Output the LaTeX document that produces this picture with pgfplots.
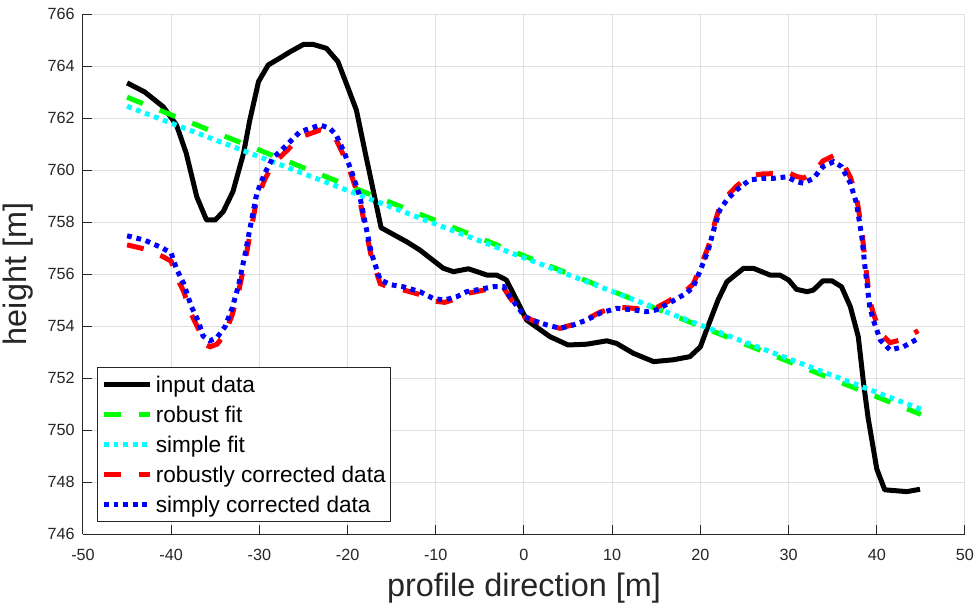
\documentclass[border=0pt]{standalone}
\usepackage{fontspec}
\setmainfont{Liberation Sans}
\usepackage{pgfplots}
\pgfplotsset{compat=1.18}
\definecolor{axgray}{RGB}{38,38,38}
\definecolor{gridgray}{RGB}{223,223,223}
\definecolor{mGreen}{RGB}{0,255,0}
\definecolor{mCyan}{RGB}{0,255,255}
\definecolor{mRed}{RGB}{255,0,0}
\definecolor{mBlue}{RGB}{0,0,255}

\begin{document}
\begin{tikzpicture}
\useasboundingbox (-41.5pt,-36pt) rectangle (448.5pt,267pt);
\begin{axis}[
  scale only axis, width=441pt, height=260pt,
  xmin=-50, xmax=50, ymin=746, ymax=766,
  axis x line*=bottom, axis y line*=left,
  axis line style={axgray, line width=0.5pt},
  xtick={-50,-40,...,50}, xticklabels={-50,-40,-30,-20,-10,0,10,20,30,40,50},
  ytick={746,748,...,766}, yticklabels={746,748,750,752,754,756,758,760,762,764,766},
  tick align=inside, major tick length=4.5pt,
  tick style={axgray, line width=0.5pt},
  grid=major, major grid style={gridgray, line width=0.5pt},
  ticklabel style={font=\fontsize{8.1}{9.5}\selectfont, text=axgray, inner sep=0pt},
  xticklabel style={anchor=north, yshift=-7.2pt},
  yticklabel style={anchor=east, xshift=-4pt},
  xlabel={profile direction [m]}, ylabel={height [m]},
  label style={font=\fontsize{16.2}{19}\selectfont, text=axgray},
  xlabel style={at={(axis description cs:0.5,-0.121)}, anchor=base},
  ylabel style={at={(axis description cs:-0.0635,0.5)}, anchor=base},
  legend style={at={(axis description cs:0,0)}, anchor=south west,
    xshift=6.85pt, yshift=6pt, draw=axgray, line width=0.5pt, fill=white,
    font=\fontsize{11.3}{13}\selectfont, inner xsep=2.2pt, inner ysep=3.1pt,
    row sep=4.2pt,
    nodes={inner sep=0pt, text height=9.6pt, text depth=1.2pt},
    /tikz/every odd column/.append style={column sep=1.8pt}},
  legend cell align=left,
  legend image code/.code={\path (0pt,0pt); \draw[#1] (0pt,0pt) -- (22.8pt,0pt);},
]
% input data
\addplot[black, line width=2.5pt, line join=round] coordinates {
(-45,763.35) (-43,763.0) (-40.9,762.43) (-39.4,761.73) (-38.3,760.65)
(-37.1,758.97) (-36.0,758.08) (-35.0,758.08) (-34.1,758.4) (-33.0,759.17)
(-31.8,760.64) (-31.1,761.9) (-30.1,763.4) (-29.0,764.04) (-27.7,764.3)
(-26.5,764.55) (-25.0,764.83) (-23.9,764.83) (-22.4,764.68) (-21.1,764.17)
(-20.0,763.2) (-19.0,762.3) (-17.9,760.5) (-17.5,759.87) (-16.2,757.78)
(-13.3,757.24) (-11.8,756.92) (-9.15,756.22) (-8.0,756.09) (-6.3,756.2)
(-4.2,755.96) (-3.1,755.96) (-2.0,755.77) (-0.45,754.74) (0.3,754.23)
(2.95,753.59) (5.0,753.27) (7.1,753.3) (9.4,753.43) (10.5,753.33)
(12.4,752.95) (14.7,752.63) (16.9,752.7) (18.8,752.82) (20.0,753.2)
(20.7,753.85) (22.0,755.0) (23.0,755.7) (24.9,756.22) (26.0,756.22)
(27.9,755.96) (29.0,755.96) (30.0,755.77) (30.9,755.41) (32.1,755.32)
(32.8,755.38) (33.9,755.74) (34.9,755.74) (36.0,755.51) (37.0,754.74)
(37.9,753.59) (38.5,751.8) (39.0,750.5) (40.0,748.5) (40.9,747.7)
(43.4,747.63) (44.9,747.72)
};
\addlegendentry{input data}
% robust fit
\addplot[mGreen, line width=2.5pt, dash pattern=on 8.5pt off 9pt] coordinates {
(-45,762.8) (45,750.6)
};
\addlegendentry{robust fit}
% simple fit
\addplot[mCyan, line width=2.5pt, dash pattern=on 2.4pt off 2.4pt] coordinates {
(-45,762.45) (45,750.8)
};
\addlegendentry{simple fit}
% robustly corrected data
\addplot[mRed, line width=2.5pt, dash pattern=on 8.5pt off 9pt] coordinates {
(-45,757.12) (-43,756.96) (-41,756.68) (-40,756.49) (-39.4,755.89)
(-38.6,755.34) (-37.7,754.44) (-36.9,753.88) (-36.4,753.33) (-35.6,753.2)
(-34.8,753.3) (-33.9,753.7) (-33.1,754.42) (-32.4,755.25) (-31.6,756.55)
(-31.1,757.45) (-30.3,758.86) (-29.4,759.63) (-28.5,760.22) (-26.9,760.74)
(-25.4,761.26) (-23.1,761.54) (-22.0,761.42) (-21.3,761.17) (-20.5,760.6)
(-19.6,759.83) (-18.6,758.81) (-18.0,757.8) (-17.3,756.65) (-16.3,755.63)
(-15.0,755.45) (-13.7,755.39) (-11.8,755.21) (-10.3,754.96) (-9.0,754.91)
(-7.6,755.05) (-6.5,755.25) (-5.0,755.35) (-3.5,755.46) (-2.3,755.47)
(-1.6,755.09) (-0.6,754.65) (0.1,754.34) (1.4,754.16) (2.6,754.03)
(4.1,753.91) (5.6,754.06) (7.1,754.26) (8.6,754.53) (10.5,754.73)
(12.4,754.68) (13.9,754.63) (15.0,754.7) (16.4,754.96) (18.4,755.37)
(19.2,755.62) (20.0,756.27) (20.9,757.05) (21.5,757.82) (22.2,758.6)
(23.0,758.99) (24.1,759.38) (25.6,759.78) (27.1,759.85) (28.3,759.86)
(29.8,759.93) (30.9,759.75) (31.7,759.69) (32.8,759.89) (33.9,760.35)
(35.1,760.55) (36.0,760.37) (37.0,759.73) (37.7,758.97) (38.3,757.68)
(38.7,756.41) (39.2,755.0) (39.6,754.49) (40.4,753.73) (41.5,753.36)
(43.0,753.49) (44.7,753.82)
};
\addlegendentry{robustly corrected data}
% simply corrected data
\addplot[mBlue, line width=2.5pt, dash pattern=on 2.4pt off 2.4pt] coordinates {
(-45,757.47) (-43,757.3) (-41,757.0) (-40,756.8) (-39.4,756.2)
(-38.6,755.64) (-37.7,754.74) (-36.9,754.17) (-36.4,753.62) (-35.6,753.43)
(-34.8,753.56) (-33.9,753.97) (-33.1,754.68) (-32.4,755.51) (-31.6,756.8)
(-31.1,757.7) (-30.3,759.1) (-29.4,759.87) (-28.5,760.45) (-26.9,760.96)
(-25.4,761.47) (-23.1,761.73) (-22.0,761.6) (-21.3,761.35) (-20.5,760.77)
(-19.6,760.0) (-18.6,758.97) (-18.0,757.95) (-17.3,756.8) (-16.3,755.77)
(-15.0,755.58) (-13.7,755.51) (-11.8,755.32) (-10.3,755.06) (-9.0,755.0)
(-7.6,755.13) (-6.5,755.32) (-5.0,755.41) (-3.5,755.51) (-2.3,755.51)
(-1.6,755.13) (-0.6,754.68) (0.1,754.36) (1.4,754.17) (2.6,754.04)
(4.1,753.91) (5.6,754.04) (7.1,754.23) (8.6,754.49) (10.5,754.68)
(12.4,754.62) (13.9,754.55) (15.0,754.62) (16.4,754.87) (18.4,755.26)
(19.2,755.51) (20.0,756.15) (20.9,756.92) (21.5,757.69) (22.2,758.46)
(23.0,758.85) (24.1,759.23) (25.6,759.62) (27.1,759.68) (28.3,759.68)
(29.8,759.74) (30.9,759.55) (31.7,759.49) (32.8,759.68) (33.9,760.13)
(35.1,760.32) (36.0,760.13) (37.0,759.49) (37.7,758.72) (38.3,757.43)
(38.7,756.15) (39.2,754.74) (39.6,754.23) (40.4,753.46) (41.5,753.08)
(43.0,753.2) (44.7,753.52)
};
\addlegendentry{simply corrected data}
\end{axis}
\end{tikzpicture}
\end{document}
